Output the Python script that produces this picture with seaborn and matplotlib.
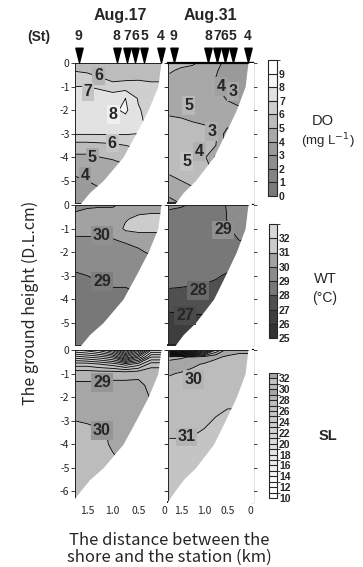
import numpy as np
import matplotlib
matplotlib.use("Agg")
import matplotlib.pyplot as plt
import seaborn as sns
from matplotlib.colors import ListedColormap, BoundaryNorm
import matplotlib.colorbar as mcolorbar
from matplotlib.path import Path

sns.set_style("white")
plt.rcParams['font.family'] = ['Noto Sans CJK JP', 'DejaVu Sans']

# ---------------- data ----------------
dist_km = [1.75, 1.5, 1.25, 1.0, 0.75, 0.5, 0.25, 0.0]
depth_m = [0, -0.3, -0.6, -1.0, -1.5, -2.0, -2.5, -3.0, -3.5, -4.0, -5.0, -6.5]

floor_km = [-0.1, 0.06, 0.12, 0.31, 0.55, 0.8, 1.19, 1.45, 1.64, 1.85]
floor_z = [0.1, 0.0, -1.0, -2.0, -3.0, -4.0, -5.0, -5.5, -6.0, -6.6]

station_km = [1.66, 0.92, 0.72, 0.56, 0.39, 0.06]
station_names = ['9', '8', '7', '6', '5', '4']
dates = ['Aug.17', 'Aug.31']

do_aug17 = [
    [5.5, 5.6, 5.6, 5.5, 5.5, 5.6, 5.6, 5.6],
    [5.9, 5.8, 5.7, 5.6, 5.6, 5.7, 5.7, 5.7],
    [6.5, 6.3, 6.0, 5.7, 5.7, 5.8, 5.8, 5.8],
    [7.0, 7.0, 6.8, 6.3, 6.5, 6.4, 6.2, 6.2],
    [7.6, 7.6, 7.6, 7.7, 8.0, 6.9, 6.5, 6.5],
    [7.6, 7.6, 7.6, 7.8, 8.2, 7.1, 6.6, 6.6],
    [7.4, 7.4, 7.4, 7.5, 7.6, 7.2, 6.7, 6.7],
    [7.1, 7.1, 7.1, 7.1, 7.1, 7.0, 6.8, 6.8],
    [5.6, 5.6, 5.7, 5.8, 6.0, 6.2, 6.5, 6.5],
    [4.8, 4.8, 5.0, 5.1, 5.3, 5.5, 5.5, 5.5],
    [3.8, 4.0, 4.1, 4.2, 4.3, 4.4, 4.4, 4.4],
    [3.4, 3.5, 3.6, 3.7, 3.8, 3.9, 3.9, 3.9],
]
do_aug31 = [
    [5.3, 5.2, 5.1, 4.8, 4.2, 3.8, 3.6, 3.6],
    [5.1, 4.9, 4.8, 4.6, 4.1, 3.6, 3.4, 3.4],
    [4.9, 4.7, 4.6, 4.5, 4.0, 3.5, 3.3, 3.3],
    [4.7, 4.6, 4.5, 4.5, 4.1, 3.5, 3.3, 3.3],
    [4.7, 4.6, 4.5, 4.6, 4.4, 3.9, 3.6, 3.6],
    [4.8, 4.8, 4.7, 4.7, 4.6, 4.4, 4.2, 4.2],
    [5.2, 5.1, 5.0, 4.9, 4.8, 4.6, 4.4, 4.4],
    [5.4, 5.4, 5.3, 5.3, 5.2, 3.4, 4.2, 4.2],
    [5.4, 5.4, 5.4, 5.3, 5.0, 3.6, 3.8, 3.8],
    [5.3, 5.3, 5.3, 5.2, 3.8, 4.0, 4.0, 4.0],
    [4.9, 5.0, 5.2, 5.1, 5.0, 4.8, 4.8, 4.8],
    [3.0, 3.5, 4.0, 4.5, 4.8, 4.8, 4.8, 4.8],
]
wt_aug17 = [
    [29.9, 29.9, 29.9, 29.95, 30.1, 30.6, 30.8, 30.8],
    [30.0, 30.1, 30.2, 30.1, 30.4, 30.8, 30.9, 30.9],
    [30.3, 30.3, 30.3, 30.4, 30.9, 31.3, 31.4, 31.4],
    [30.2, 30.2, 30.2, 30.3, 31.2, 31.4, 31.3, 31.3],
    [29.9, 29.9, 29.9, 29.95, 30.1, 30.2, 30.4, 30.4],
    [29.6, 29.6, 29.6, 29.6, 29.7, 29.9, 30.1, 30.1],
    [29.2, 29.3, 29.3, 29.4, 29.5, 29.6, 29.7, 29.7],
    [28.9, 29.0, 29.1, 29.2, 29.3, 29.4, 29.5, 29.5],
    [28.8, 28.8, 28.9, 29.0, 29.0, 29.1, 29.2, 29.2],
    [28.7, 28.7, 28.8, 28.8, 28.9, 28.9, 29.0, 29.0],
    [28.6, 28.6, 28.7, 28.7, 28.8, 28.8, 28.9, 28.9],
    [28.5, 28.5, 28.6, 28.6, 28.7, 28.7, 28.8, 28.8],
]
wt_aug31 = [
    [29.1, 29.05, 28.95, 28.8, 28.9, 29.02, 29.3, 29.3],
    [28.95, 28.9, 28.8, 28.7, 28.8, 29.02, 29.3, 29.3],
    [28.8, 28.8, 28.7, 28.7, 28.8, 29.02, 29.3, 29.3],
    [28.7, 28.7, 28.7, 28.7, 28.8, 28.95, 29.2, 29.2],
    [28.6, 28.6, 28.6, 28.6, 28.7, 28.9, 29.0, 29.0],
    [28.5, 28.5, 28.5, 28.5, 28.5, 28.7, 28.8, 28.8],
    [28.4, 28.4, 28.4, 28.4, 28.4, 28.3, 28.5, 28.5],
    [28.3, 28.3, 28.3, 28.25, 28.1, 27.9, 28.0, 28.0],
    [28.05, 28.0, 27.95, 27.9, 27.8, 27.7, 27.7, 27.7],
    [27.5, 27.5, 27.5, 27.5, 27.5, 27.4, 27.4, 27.4],
    [26.6, 26.65, 26.7, 26.75, 26.8, 26.85, 26.9, 26.9],
    [26.0, 26.1, 26.2, 26.3, 26.4, 26.4, 26.4, 26.4],
]
sl_aug17 = [
    [20.0, 19.5, 18.5, 16.5, 12.0, 16.0, 22.0, 22.0],
    [23.5, 23.0, 22.5, 21.5, 18.0, 21.0, 25.0, 25.0],
    [26.5, 26.5, 26.0, 25.5, 24.5, 25.5, 27.5, 27.5],
    [28.7, 28.7, 28.7, 28.8, 28.8, 28.9, 28.8, 28.8],
    [29.15, 29.15, 29.15, 29.15, 29.15, 29.1, 28.9, 28.9],
    [29.4, 29.4, 29.4, 29.4, 29.4, 29.3, 28.95, 28.95],
    [29.7, 29.7, 29.7, 29.7, 29.6, 29.5, 29.05, 29.05],
    [30.0, 29.95, 29.9, 29.85, 29.8, 29.7, 29.3, 29.3],
    [30.2, 30.15, 30.05, 29.95, 29.9, 29.8, 29.5, 29.5],
    [30.3, 30.25, 30.1, 29.95, 29.9, 29.85, 29.6, 29.6],
    [30.4, 30.35, 30.2, 30.1, 30.0, 29.9, 29.7, 29.7],
    [30.5, 30.5, 30.4, 30.3, 30.2, 30.0, 29.8, 29.8],
]
sl_aug31 = [
    [15.0, 16.0, 18.0, 22.0, 27.0, 29.6, 29.8, 29.8],
    [28.5, 28.8, 29.2, 29.6, 29.9, 30.1, 30.2, 30.2],
    [29.6, 29.7, 29.9, 30.05, 30.2, 30.3, 30.4, 30.4],
    [29.95, 30.05, 30.15, 30.25, 30.35, 30.4, 30.5, 30.5],
    [30.2, 30.25, 30.3, 30.4, 30.5, 30.5, 30.6, 30.6],
    [30.4, 30.45, 30.5, 30.6, 30.7, 30.8, 30.8, 30.8],
    [30.6, 30.6, 30.7, 30.8, 30.9, 31.0, 31.0, 31.0],
    [30.75, 30.75, 30.8, 30.9, 31.05, 31.2, 31.2, 31.2],
    [30.9, 30.9, 30.95, 31.05, 31.2, 31.3, 31.3, 31.3],
    [31.1, 31.1, 31.15, 31.2, 31.3, 31.4, 31.4, 31.4],
    [31.3, 31.3, 31.3, 31.4, 31.5, 31.5, 31.5, 31.5],
    [31.5, 31.5, 31.5, 31.5, 31.6, 31.6, 31.6, 31.6],
]

do_levels = list(range(0, 11))
do_colors = ['#7a7a7a', '#848484', '#8e8e8e', '#9a9a9a', '#a8a8a8',
             '#bcbcbc', '#cfcfcf', '#e2e2e2', '#f6f6f6', '#ffffff']
do_ticks = list(range(0, 10))
wt_levels = list(range(25, 34))
wt_colors = ['#333333', '#3e3e3e', '#505050', '#787878', '#8c8c8c',
             '#a2a2a2', '#cccccc', '#d8d8d8']
wt_ticks = list(range(25, 33))
sl_levels = list(range(10, 34))
sl_colors = ['#ffffff', '#ffffff', '#fcfcfc', '#f8f8f8', '#f4f4f4', '#f0f0f0',
             '#ececec', '#e8e8e8', '#e4e4e4', '#e0e0e0', '#dcdcdc', '#d8d8d8',
             '#d4d4d4', '#d0d0d0', '#cccccc', '#c8c8c8', '#c4c4c4', '#bebebe',
             '#b4b4b4', '#a6a6a6', '#bcbcbc', '#c4c4c4', '#a8a8a8']
sl_ticks = list(range(10, 33, 2))

# contour labels: (text, km, depth, box colour)
labels = {
    (0, 0): [('6', 1.27, -0.55, '#b4b4b4'), ('7', 1.48, -1.23, '#c4c4c4'),
             ('8', 0.99, -2.2, '#f0f0f0'), ('6', 1.01, -3.4, '#c4c4c4'),
             ('5', 1.40, -4.0, '#a8a8a8'), ('4', 1.54, -4.8, '#9c9c9c')],
    (0, 1): [('4', 0.64, -1.0, '#a0a0a0'), ('3', 0.38, -1.22, '#a8a8a8'),
             ('5', 1.33, -1.79, '#b8b8b8'), ('3', 0.84, -2.92, '#b0b0b0'),
             ('4', 1.11, -3.77, '#b0b0b0'), ('5', 1.38, -4.2, '#c4c4c4')],
    (1, 0): [('30', 1.21, -1.28, '#909090'), ('29', 1.21, -3.26, '#7e7e7e')],
    (1, 1): [('29', 0.59, -1.06, '#909090'), ('28', 1.13, -3.62, '#6a6a6a'),
             ('27', 1.41, -4.68, '#4a4a4a')],
    (2, 0): [('29', 1.21, -1.39, '#969696'), ('30', 1.21, -3.4, '#969696')],
    (2, 1): [('30', 1.23, -1.25, '#b4b4b4'), ('31', 1.38, -3.69, '#b4b4b4')],
}

# ---------------- layout ----------------
W, H = 363, 567
fig = plt.figure(figsize=(W / 100, H / 100), dpi=100)


def rect(x0, y0, x1, y1):
    return [x0 / W, 1 - y1 / H, (x1 - x0) / W, (y1 - y0) / H]


rows = [(63, 203, -5.95), (205, 345, -5.95), (350, 502, -6.45)]
cols = [(75, 165, (1.735, -0.02)), (168, 253, (1.78, -0.05))]
grids = [[do_aug17, do_aug31], [wt_aug17, wt_aug31], [sl_aug17, sl_aug31]]
scales = [(do_levels, do_colors), (wt_levels, wt_colors), (sl_levels, sl_colors)]

num_font = ['Liberation Sans Narrow', 'Liberation Sans', 'DejaVu Sans']
tri = Path([(-0.5, 1.0), (0.5, 1.0), (0.0, -1.0), (-0.5, 1.0)],
           [Path.MOVETO, Path.LINETO, Path.LINETO, Path.CLOSEPOLY])

for r, (y0, y1, ybot) in enumerate(rows):
    lev, cols_ = scales[r]
    cmap = ListedColormap(cols_)
    norm = BoundaryNorm(lev, cmap.N)
    for c, (x0, x1, xl) in enumerate(cols):
        ax = fig.add_axes(rect(x0, y0, x1, y1))
        Z = np.array(grids[r][c])
        ax.contourf(dist_km, depth_m, Z, levels=lev, cmap=cmap, norm=norm, zorder=1)
        ax.contour(dist_km, depth_m, Z, levels=lev, colors='k',
                   linewidths=0.6, zorder=2)
        ax.fill_between(floor_km, floor_z, -8, color='white', lw=0, zorder=3)
        ax.set_xlim(*xl)
        ax.set_ylim(ybot, 0)
        ax.set_facecolor('white')
        nd = 7 if r == 2 else 6
        ax.set_yticks([-i for i in range(nd)])
        ax.set_xticks([1.5, 1.0, 0.5, 0.0])
        ax.tick_params(axis='x', direction='in', length=2.5, width=0.6,
                       top=True, bottom=True, labelsize=7.5, pad=3)
        ax.tick_params(axis='y', direction='out', length=3, width=0.6,
                       left=True, right=True, labelsize=7.5, pad=1)
        if c == 0:
            ax.set_yticklabels(['0'] + ['-%d' % i for i in range(1, nd)])
        else:
            ax.set_yticklabels([])
        if r == 2:
            ax.set_xticklabels(['1.5', '1.0', '0.5', '0'])
        else:
            ax.set_xticklabels([])
        for s in ax.spines.values():
            s.set_linewidth(0.7)
            s.set_color('#222222')
            s.set_visible(True)
        if c == 1:
            ax.spines['right'].set_linewidth(1.6)
            ax.spines['bottom'].set_linewidth(1.4)
            ax.spines['right'].set_color('black')
            if r == 0:
                ax.spines['top'].set_linewidth(1.6)
                ax.spines['top'].set_color('black')
        for (t, kx, kz, bc) in labels[(r, c)]:
            ax.text(kx, kz, t, ha='center', va='center', fontsize=11.5,
                    fontweight='bold', family=num_font, zorder=5,
                    bbox=dict(boxstyle='square,pad=0.12', fc=bc, ec='none'))
        if r == 0:
            trans = ax.get_xaxis_transform()
            ax.plot(station_km, [1.057] * len(station_km), linestyle='none',
                    marker=tri, markersize=10.5, color='black',
                    transform=trans, clip_on=False, zorder=6)
            for sk, sn in zip(station_km, station_names):
                ax.text(sk, 1.19, sn, transform=trans, ha='center', va='center',
                        fontsize=10, fontweight='bold', family=num_font)
            ax.text(np.mean(xl), 1.34, dates[c], transform=trans,
                    ha='center', va='center',
                    fontsize=11.5, fontweight='bold', family=num_font)

fig.text(39 / W, 1 - 37 / H, '(St)', ha='center', va='center', fontsize=10,
         fontweight='bold', family=num_font)

# ---------------- colorbars ----------------
cbars = [((268, 60, 277, 196), do_levels, do_colors, do_ticks),
         ((269, 224, 277, 338), wt_levels, wt_colors, wt_ticks),
         ((269, 373, 277, 498), sl_levels, sl_colors, sl_ticks)]
for (bx0, by0, bx1, by1), lev, cl, tk in cbars:
    cax = fig.add_axes(rect(bx0, by0, bx1, by1))
    cm = ListedColormap(cl)
    cb = mcolorbar.ColorbarBase(cax, cmap=cm, norm=BoundaryNorm(lev, cm.N),
                                boundaries=lev, ticks=tk, drawedges=True,
                                orientation='vertical')
    cb.outline.set_linewidth(0.8)
    cb.dividers.set_linewidth(0.8)
    cax.tick_params(length=0, pad=1.5)
    cax.set_yticklabels([str(v) for v in tk], fontsize=7.5, fontweight='bold',
                        family=num_font)

lab_font = ['Liberation Sans', 'DejaVu Sans']
fig.text(323 / W, 1 - 121 / H, 'DO', ha='center', va='center', fontsize=10.5,
         family=lab_font)
fig.text(328 / W, 1 - 141 / H, '(mg L$^{-1}$)', ha='center', va='center',
         fontsize=9.5, family=lab_font)
fig.text(325 / W, 1 - 279 / H, 'WT', ha='center', va='center', fontsize=10.5,
         family=lab_font)
fig.text(325 / W, 1 - 298 / H, '(°C)', ha='center', va='center', fontsize=10,
         family=lab_font)
fig.text(328 / W, 1 - 436 / H, 'SL', ha='center', va='center', fontsize=10.5,
         fontweight='bold', family=lab_font)

fig.text(30 / W, 1 - 303 / H, 'The ground height (D.L.cm)', rotation=90,
         ha='center', va='center', fontsize=11.5)
fig.text(169 / W, 1 - 549 / H, 'The distance between the\nshore and the station (km)',
         ha='center', va='center', fontsize=12, linespacing=0.95)

fig.savefig('out.png', dpi=100)
